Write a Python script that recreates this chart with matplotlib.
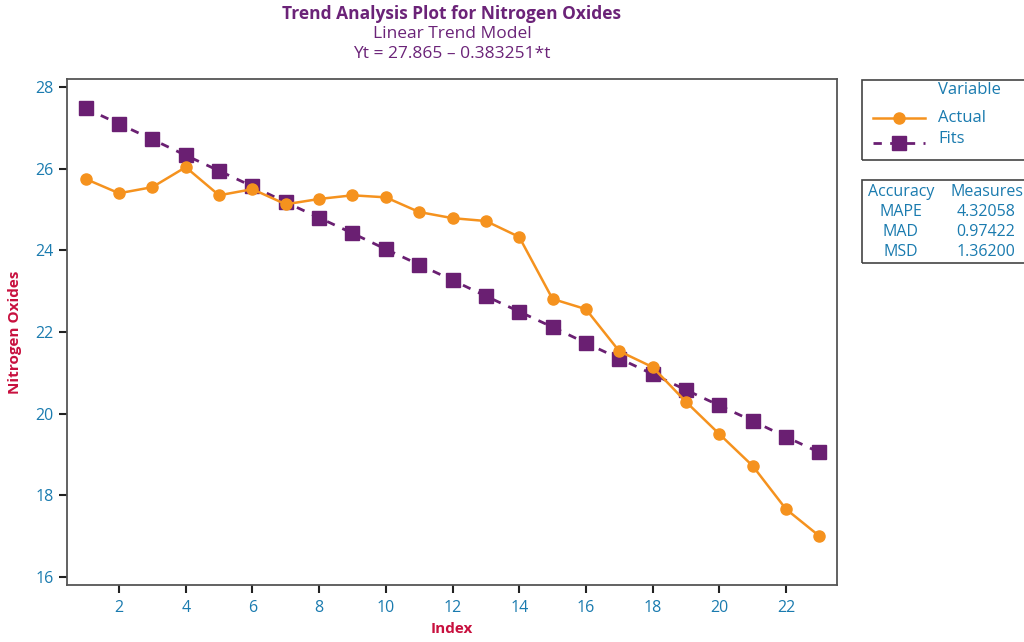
import matplotlib.pyplot as plt
from matplotlib.patches import Rectangle
from matplotlib.lines import Line2D

plt.rcParams['font.family'] = ['Open Sans', 'DejaVu Sans']

# data
index = list(range(1, 24))
actual = [25.75, 25.40, 25.55, 26.04, 25.35, 25.50, 25.13, 25.26, 25.35, 25.30,
          24.94, 24.79, 24.72, 24.33, 22.81, 22.56, 21.53, 21.14, 20.29, 19.50,
          18.72, 17.66, 17.00]
fits = [27.48, 27.10, 26.72, 26.33, 25.95, 25.57, 25.18, 24.80, 24.42, 24.03,
        23.65, 23.27, 22.88, 22.50, 22.12, 21.73, 21.35, 20.97, 20.58, 20.20,
        19.82, 19.43, 19.05]
xticks = [2, 4, 6, 8, 10, 12, 14, 16, 18, 20, 22]
yticks = [16, 18, 20, 22, 24, 26, 28]
acc_names = ["MAPE", "MAD", "MSD"]
acc_values = ["4.32058", "0.97422", "1.36200"]

orange = "#F5921E"
purple = "#6A1F72"
blue = "#1A7BAF"
crimson = "#C8103E"
title_col = "#6B2378"

fig = plt.figure(figsize=(10.24, 6.42), dpi=100)
ax = fig.add_axes([67 / 1024, 1 - 585 / 642, 770 / 1024, 506 / 642])

ax.plot(index, fits, color=purple, lw=2, ls=(0, (3, 3)), marker="s", ms=10, zorder=2)
ax.plot(index, actual, color=orange, lw=1.8, marker="o", ms=8, zorder=3)

ax.set_xlim(0.44, 23.53)
ax.set_ylim(15.8, 28.2)
ax.set_xticks(xticks)
ax.set_yticks(yticks)
ax.tick_params(colors="#222222", labelcolor=blue, labelsize=11.5, length=6, width=1.5)
ax.tick_params(axis="x", pad=5)
for s in ax.spines.values():
    s.set_color("#555555")
    s.set_linewidth(1.3)

ax.set_xlabel("Index", color=crimson, fontweight="bold", fontsize=11, labelpad=4)
ax.set_ylabel("Nitrogen Oxides", color=crimson, fontweight="bold", fontsize=11, labelpad=10)

# title lines
cx = 452 / 1024
fig.text(cx, 1 - 14 / 642, "Trend Analysis Plot for Nitrogen Oxides", color=title_col,
         fontsize=12.5, fontweight="bold", ha="center", va="center")
fig.text(cx, 1 - 34 / 642, "Linear Trend Model", color=title_col, fontsize=12.5,
         ha="center", va="center")
fig.text(cx, 1 - 54 / 642, "Yt = 27.865 \u2013 0.383251*t", color=title_col, fontsize=12.5,
         ha="center", va="center")


def fx(px):
    return px / 1024


def fy(py):
    return 1 - py / 642


# legend box
fig.patches.append(Rectangle((fx(862), fy(160)), fx(200), 80 / 642, transform=fig.transFigure,
                             fill=False, edgecolor="#444444", lw=1.2))
fig.text(fx(938), fy(90), "Variable", color=blue, fontsize=12, va="center")
fig.lines.append(Line2D([fx(873), fx(925)], [fy(118), fy(118)], transform=fig.transFigure,
                        color=orange, lw=1.8))
fig.lines.append(Line2D([fx(899)], [fy(118)], transform=fig.transFigure,
                        color=orange, marker="o", ms=8, ls="none"))
fig.text(fx(938), fy(118), "Actual", color=blue, fontsize=12, va="center")
fig.lines.append(Line2D([fx(873), fx(925)], [fy(143), fy(143)], transform=fig.transFigure,
                        color=purple, lw=2, ls=(0, (3, 3))))
fig.lines.append(Line2D([fx(899)], [fy(143)], transform=fig.transFigure,
                        color=purple, marker="s", ms=10, ls="none"))
fig.text(fx(938), fy(139), "Fits", color=blue, fontsize=12, va="center")

# accuracy box
fig.patches.append(Rectangle((fx(862), fy(263)), fx(200), 83 / 642, transform=fig.transFigure,
                             fill=False, edgecolor="#444444", lw=1.2))
fig.text(fx(901), fy(192), "Accuracy", color=blue, fontsize=11.5, ha="center", va="center")
fig.text(fx(951), fy(192), "Measures", color=blue, fontsize=11.5, ha="left", va="center")
for i, (n, v) in enumerate(zip(acc_names, acc_values)):
    y = fy(212 + 20 * i)
    fig.text(fx(901), y, n, color=blue, fontsize=11.5, ha="center", va="center")
    fig.text(fx(986), y, v, color=blue, fontsize=11.5, ha="center", va="center")

fig.savefig("out.png", dpi=100)
